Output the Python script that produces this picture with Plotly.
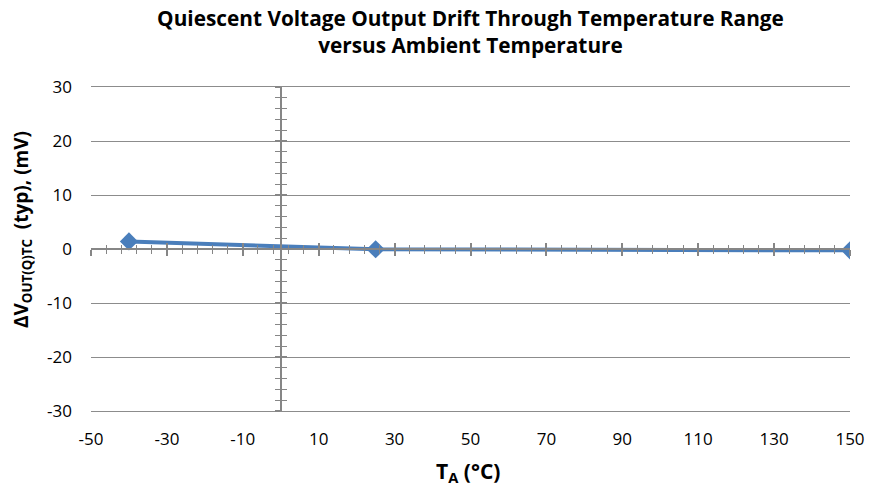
import plotly.graph_objects as go

temps = [-40, 25, 150]
drift_mv = [1.4, -0.05, -0.25]

x_ticks = [-50, -30, -10, 10, 30, 50, 70, 90, 110, 130, 150]
y_ticks = [-30, -20, -10, 0, 10, 20, 30]
x_labels = [str(v) for v in x_ticks]
y_labels = [str(v) for v in y_ticks]

GRID = "#8c8c8c"
AXIS = "#868686"
BLUE = "#4a7ebb"
FONT = "Open Sans"

fig = go.Figure()
fig.add_trace(go.Scatter(
    x=temps, y=drift_mv, mode="lines+markers",
    line=dict(color=BLUE, width=4),
    marker=dict(symbol="diamond", size=14, color=BLUE),
    showlegend=False, hoverinfo="skip",
))
# empty helper traces so the crossing-axis overlays get drawn
for xa, ya in [("x2", "y"), ("x3", "y"), ("x", "y2"), ("x", "y3")]:
    fig.add_trace(go.Scatter(x=[None], y=[None], xaxis=xa, yaxis=ya,
                             showlegend=False, hoverinfo="skip"))

xr = [-50, 150]
yr = [-30, 30]

fig.update_layout(
    width=871, height=491,
    margin=dict(l=91, r=21, t=87, b=80, autoexpand=False),
    paper_bgcolor="white", plot_bgcolor="white",
    font=dict(family=FONT, size=17, color="#000000"),
    title=dict(
        text="Quiescent Voltage Output Drift Through Temperature Range<br>versus Ambient Temperature",
        x=0.5, xanchor="center", xref="paper", yref="container", y=0.948, yanchor="top",
        font=dict(family=FONT, size=20.8, weight="bold", color="#000000"),
    ),
    xaxis=dict(
        range=xr, tickvals=x_ticks, ticktext=x_labels, showgrid=False, zeroline=False,
        showline=True, mirror=True, linecolor=GRID, linewidth=1, automargin=False,
        ticks="", ticklabelstandoff=13,
        tickfont=dict(family=FONT, size=17),
    ),
    yaxis=dict(
        range=yr, tickvals=y_ticks, ticktext=y_labels, showgrid=True, gridcolor=GRID, gridwidth=1,
        zeroline=False, showline=False, ticks="", ticklabelstandoff=18, automargin=False,
        tickfont=dict(family=FONT, size=17),
    ),
    xaxis2=dict(
        overlaying="x", matches="x", range=xr, anchor="free", position=0.5,
        showline=True, linecolor=AXIS, linewidth=1.5, showgrid=False, zeroline=False,
        showticklabels=False, ticks="outside", tickmode="linear", tick0=-50, dtick=20,
        ticklen=6, tickwidth=1.5, tickcolor=AXIS,
        minor=dict(ticks="outside", tick0=-50, dtick=4, ticklen=4, tickwidth=1, tickcolor=AXIS),
    ),
    xaxis3=dict(
        overlaying="x", matches="x", range=xr, anchor="free", position=0.5,
        showline=False, showgrid=False, zeroline=False,
        showticklabels=False, ticks="inside", tickmode="linear", tick0=-50, dtick=20,
        ticklen=6, tickwidth=1.5, tickcolor=AXIS,
        minor=dict(ticks="inside", tick0=-50, dtick=4, ticklen=4, tickwidth=1, tickcolor=AXIS),
    ),
    yaxis2=dict(
        overlaying="y", matches="y", range=yr, anchor="free", position=0.25,
        showline=True, linecolor=AXIS, linewidth=1.5, showgrid=False, zeroline=False,
        showticklabels=False, ticks="outside", tickmode="linear", tick0=-30, dtick=10,
        ticklen=5, tickwidth=1.5, tickcolor=AXIS,
        minor=dict(ticks="outside", tick0=-30, dtick=2, ticklen=5, tickwidth=1, tickcolor=AXIS),
    ),
    yaxis3=dict(
        overlaying="y", matches="y", range=yr, anchor="free", position=0.25,
        showline=False, showgrid=False, zeroline=False,
        showticklabels=False, ticks="inside", tickmode="linear", tick0=-30, dtick=10,
        ticklen=5, tickwidth=1.5, tickcolor=AXIS,
        minor=dict(ticks="inside", tick0=-30, dtick=2, ticklen=5, tickwidth=1, tickcolor=AXIS),
    ),
    annotations=[
        dict(text="T<sub>A</sub> (°C)", xref="paper", yref="paper",
             x=(468 - 91) / 759, y=-(472 - 411) / 324, xanchor="center", yanchor="middle",
             showarrow=False, font=dict(family=FONT, size=21, weight="bold", color="#000000")),
        dict(text="ΔV<sub>OUT(Q)TC</sub>  (typ), (mV)", xref="paper", yref="paper",
             x=(22 - 91) / 759, y=(411 - 230) / 324, xanchor="center", yanchor="middle",
             textangle=-90, showarrow=False,
             font=dict(family=FONT, size=19, weight="bold", color="#000000")),
    ],
)

fig.write_html("out.html", config={"displayModeBar": False},
               post_script="document.body.style.margin='0';document.body.style.padding='0';")
